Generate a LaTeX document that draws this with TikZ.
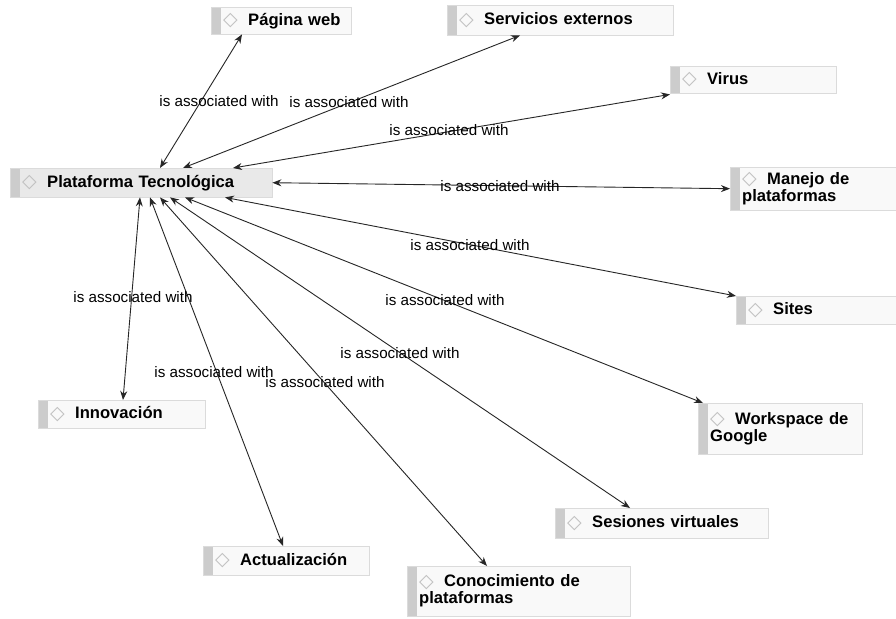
\documentclass[tikz,border=0pt]{standalone}
\usepackage{fontspec}
\setmainfont{Liberation Sans}
\newfontfamily\dejavu{DejaVu Sans}
\usetikzlibrary{arrows.meta}
\newcommand\dm{\makebox[25pt][l]{\raisebox{-0.5pt}{\dejavu\mdseries\fontsize{19}{19}\selectfont\color{gray!50}◇}}}
\newcommand\ind{\hspace*{12pt}}
\tikzset{
 box/.style={rectangle, anchor=north west, draw=gray!28, fill=gray!5, inner xsep=0pt, inner ysep=2pt, align=left,
   font=\fontsize{16.6}{17}\selectfont\bfseries,
   path picture={\fill[gray!40] (path picture bounding box.north west) rectangle ([xshift=10pt]path picture bounding box.south west);}},
 mainbox/.style={box, fill=gray!17},
 lab/.style={font=\fontsize{15.2}{16}\selectfont, inner sep=0pt},
 link/.style={draw=black!85, line width=0.9pt, {Stealth[length=9pt,width=7pt]}-{Stealth[length=9pt,width=7pt]}}
}
\begin{document}
\begin{tikzpicture}[x=1pt,y=-1pt]
\useasboundingbox[fill=white] (0,0) rectangle (896,618);
% nodes
\node[mainbox, text width=262pt, minimum height=29pt] (pt) at (10,168) {\ind\dm Plataforma Tecnológica};
\node[box, text width=140pt, minimum height=27pt] (pw) at (211,7) {\ind\dm Página web};
\node[box, text width=226pt, minimum height=30pt] (se) at (447,5) {\ind\dm Servicios externos};
\node[box, text width=166pt, minimum height=27pt] (vi) at (670,66) {\ind\dm Virus};
\node[box, text width=166pt, minimum height=43pt] (ma) at (730,167) {\ind\dm Manejo de\\\ind plataformas};
\node[box, text width=160pt, minimum height=28pt] (si) at (736,296) {\ind\dm Sites};
\node[box, text width=164pt, minimum height=51pt] (wo) at (698,403) {\ind\dm Workspace de\\\ind Google};
\node[box, text width=213pt, minimum height=30pt] (ses) at (555,508) {\ind\dm Sesiones virtuales};
\node[box, text width=223pt, minimum height=50pt] (co) at (407,566) {\ind\dm Conocimiento de\\\ind plataformas};
\node[box, text width=166pt, minimum height=29pt] (ac) at (203,546) {\ind\dm Actualización};
\node[box, text width=167pt, minimum height=28pt] (in) at (38,400) {\ind\dm Innovación};
% connectors
\draw[link] ([xshift=150pt]pt.north west) -- ([xshift=31pt]pw.south west);
\draw[link] ([xshift=173pt]pt.north west) -- ([xshift=73pt]se.south west);
\draw[link] ([xshift=223pt]pt.north west) -- ([yshift=-1pt]vi.south west);
\draw[link] (pt.east) -- (ma.west);
\draw[link] ([xshift=215pt]pt.south west) -- (si.north west);
\draw[link] ([xshift=175pt]pt.south west) -- ([xshift=5pt]wo.north west);
\draw[link] ([xshift=160pt]pt.south west) -- ([xshift=75pt]ses.north west);
\draw[link] ([xshift=150pt]pt.south west) -- ([xshift=80pt]co.north west);
\draw[link] ([xshift=140pt]pt.south west) -- ([xshift=80pt]ac.north west);
\draw[link] ([xshift=130pt]pt.south west) -- ([xshift=85pt]in.north west);
% labels
\node[lab] (l1) at (219,101) {is associated with};
\node[lab] (l2) at (349,102) {is associated with};
\node[lab] (l3) at (449,130) {is associated with};
\node[lab] (l4) at (500,186) {is associated with};
\node[lab] (l5) at (470,245) {is associated with};
\node[lab] (l6) at (445,300) {is associated with};
\node[lab] (l7) at (400,353) {is associated with};
\node[lab] (l8) at (133,297) {is associated with};
\node[lab] (l9) at (214,372) {is associated with};
\node[lab] (l10) at (325,382) {is associated with};
\end{tikzpicture}
\end{document}
